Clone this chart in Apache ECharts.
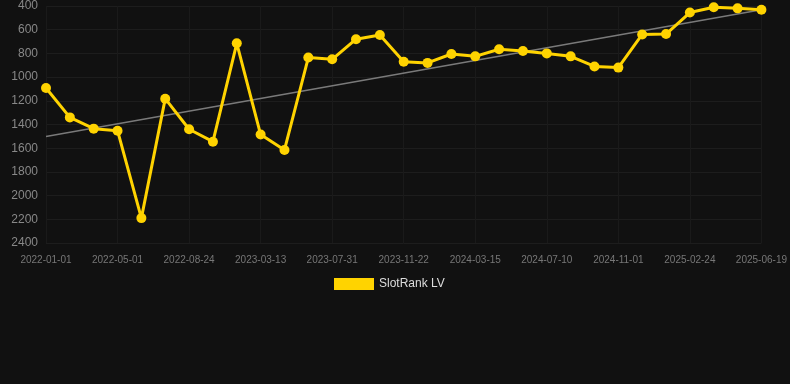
<!DOCTYPE html>
<html><head><meta charset="utf-8">
<script src="https://cdn.jsdelivr.net/npm/echarts@6/dist/echarts.min.js"></script>
<style>html,body{margin:0;padding:0;background:#111111;}#c{width:790px;height:384px;}</style>
</head><body><div id="c"></div>
<script>
const categories = ['2022-01-01','2022-02-10','2022-03-22','2022-05-01','2022-06-08','2022-07-16','2022-08-24','2022-10-30','2023-01-05','2023-03-13','2023-05-01','2023-06-15','2023-07-31','2023-09-07','2023-10-15','2023-11-22','2023-12-30','2024-02-06','2024-03-15','2024-04-22','2024-05-31','2024-07-10','2024-08-17','2024-09-24','2024-11-01','2024-12-08','2025-01-17','2025-02-24','2025-04-03','2025-05-11','2025-06-19'];
const rankValues = [1092,1340,1435,1452,2190,1182,1440,1545,715,1485,1615,835,850,680,645,870,880,805,825,765,780,800,825,910,920,640,637,455,410,420,432];
const trendStart = 1502;
const trendEnd = 432;
const trendValues = categories.map((c,i)=> i===0 ? trendStart : (i===categories.length-1 ? trendEnd : null));

const chart = echarts.init(document.getElementById('c'));
chart.setOption({
  backgroundColor:'#111111',
  animation:false,
  grid:{left:46,right:28,top:6,bottom:141},
  legend:{data:['SlotRank LV'],top:273,left:329,itemWidth:40,itemHeight:12,icon:'rect',
    textStyle:{color:'#dddddd',fontSize:12,fontFamily:'Arial, Liberation Sans, sans-serif'}},
  xAxis:{type:'category',data:categories,boundaryGap:false,
    axisLine:{show:false},axisTick:{show:false},
    axisLabel:{interval:2,color:'#777777',fontSize:10,margin:12,fontFamily:'Arial, Liberation Sans, sans-serif'},
    splitLine:{show:true,interval:2,lineStyle:{color:'#1a1a1a'}}},
  yAxis:{type:'value',inverse:true,min:400,max:2400,interval:200,
    axisLine:{show:false},axisTick:{show:false},
    axisLabel:{color:'#888888',fontSize:12,margin:8,formatter:(v)=>String(v),fontFamily:'Arial, Liberation Sans, sans-serif'},
    splitLine:{lineStyle:{color:'#1d1d1d'}}},
  series:[
    {name:'SlotRank LV',type:'line',data:rankValues,symbol:'circle',symbolSize:10,
      itemStyle:{color:'#FFD300'},lineStyle:{color:'#FFD300',width:3},z:3},
    {name:'trend',type:'line',data:trendValues,connectNulls:true,symbol:'none',
      lineStyle:{color:'#7a7a7a',width:1.5},z:2}
  ]
});
</script></body></html>
